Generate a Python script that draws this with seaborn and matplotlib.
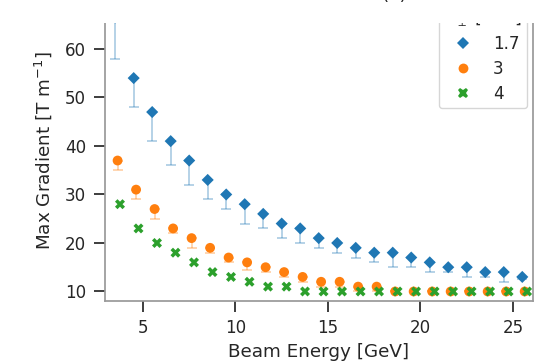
import numpy as np
import pandas as pd
import matplotlib
matplotlib.use("Agg")
import matplotlib.pyplot as plt
from matplotlib.patches import Rectangle
import seaborn as sns

# Beam energies [GeV]
energy = [3.5, 4.5, 5.5, 6.5, 7.5, 8.5, 9.5, 10.5, 11.5, 12.5, 13.5, 14.5,
          15.5, 16.5, 17.5, 18.5, 19.5, 20.5, 21.5, 22.5, 23.5, 24.5, 25.5]

# Maximum gradient [T/m] for each transverse beam size
grad_17 = [66.5, 54, 47, 41, 37, 33, 30, 28, 26, 24, 23, 21,
           20, 19, 18, 18, 17, 16, 15, 15, 14, 14, 13]
grad_3 = [37, 31, 27, 23, 21, 19, 17, 16, 15, 14, 13, 12,
          12, 11, 11, 10, 10, 10, 10, 10, 10, 10, 10]
grad_4 = [28, 23, 20, 18, 16, 14, 13, 12, 11, 11, 10, 10,
          10, 10, 10, 10, 10, 10, 10, 10, 10, 10, 10]

# Lower bounds of the gradient range
low_17 = [58, 48, 41, 36, 32, 29, 27, 24, 23, 21, 20, 19,
          18, 17, 16, 15, 15, 14, 14, 13, 13, 12, 12.5]
low_3 = [35, 29, 25, 22, 19, 18, 16, 14.5, 14, 13, 12, 11,
         11, 10, 10, 10, 10, 10, 10, 10, 10, 10, 10]

sigma_labels = ["1.7", "3", "4"]
colors = ["#1f77b4", "#ff7f0e", "#2ca02c"]
markers = {"1.7": "D", "3": "o", "4": "X"}
marker_sizes = {"1.7": 38, "3": 50, "4": 52}
offsets = {"1.7": 0.0, "3": 0.13, "4": 0.26}  # small horizontal dodge

hue_col = r"$\sigma_\perp$ [mm]"
series = {"1.7": grad_17, "3": grad_3, "4": grad_4}
frames = []
for lab in sigma_labels:
    frames.append(pd.DataFrame({
        "Beam Energy": np.array(energy) + offsets[lab],
        "Max Gradient": series[lab],
        hue_col: lab,
    }))
df = pd.concat(frames, ignore_index=True)

sns.set_theme(style="ticks", context="notebook", font_scale=1.1)
plt.rcParams["axes.edgecolor"] = "0.6"
plt.rcParams["font.family"] = ["DejaVu Sans"]

fig = plt.figure(figsize=(5.39, 3.61), dpi=100)
ax = fig.add_axes([105 / 539, 1 - 300.5 / 361, 428 / 539, 278 / 361])

# one-sided error bars down to the lower bound
for lab, vals, low, col in [("1.7", grad_17, low_17, colors[0]),
                            ("3", grad_3, low_3, colors[1])]:
    vals = np.array(vals, dtype=float)
    low = np.array(low, dtype=float)
    ax.errorbar(np.array(energy) + offsets[lab], vals,
                yerr=[vals - low, np.zeros_like(vals)],
                fmt="none", ecolor=col, alpha=0.35, elinewidth=1.3,
                capsize=3.5, capthick=1.3, zorder=1)

sns.scatterplot(data=df, x="Beam Energy", y="Max Gradient",
                hue=hue_col, style=hue_col, size=hue_col,
                hue_order=sigma_labels, style_order=sigma_labels,
                size_order=sigma_labels, sizes=marker_sizes,
                palette=colors, markers=markers, linewidth=0,
                ax=ax, zorder=3)

ax.set_xlim(2.95, 26.08)
ax.set_ylim(8.14, 65.46)
ax.set_xticks([5, 10, 15, 20, 25])
ax.set_yticks([10, 20, 30, 40, 50, 60])
ax.set_xlabel("Beam Energy [GeV]")
ax.set_ylabel(r"Max Gradient [T m$^{-1}$]")
ax.yaxis.set_label_coords(-0.119, 0.538)
ax.spines["top"].set_visible(False)
for side in ["left", "bottom", "right"]:
    ax.spines[side].set_linewidth(1.25)
ax.tick_params(colors="0.15", length=8, pad=5.5)

leg = ax.legend(title=hue_col, loc="lower right",
                bbox_to_anchor=(0.986, 0.6925), borderaxespad=0,
                borderpad=0.3, labelspacing=0.42, title_fontsize=12.5)
for h in leg.legend_handles:
    h.set_markeredgewidth(0)

# band above the plotting area
fig.add_artist(Rectangle((0, 1 - 22.5 / 361), 1, 22.5 / 361,
                         transform=fig.transFigure, facecolor="white",
                         edgecolor="none", zorder=10))
fig.text(394 / 539, 1 - 0.5 / 361, "(a)", ha="center", va="baseline",
         fontsize=13.2, color="0.15", zorder=11)

fig.savefig("out.png", dpi=100)
